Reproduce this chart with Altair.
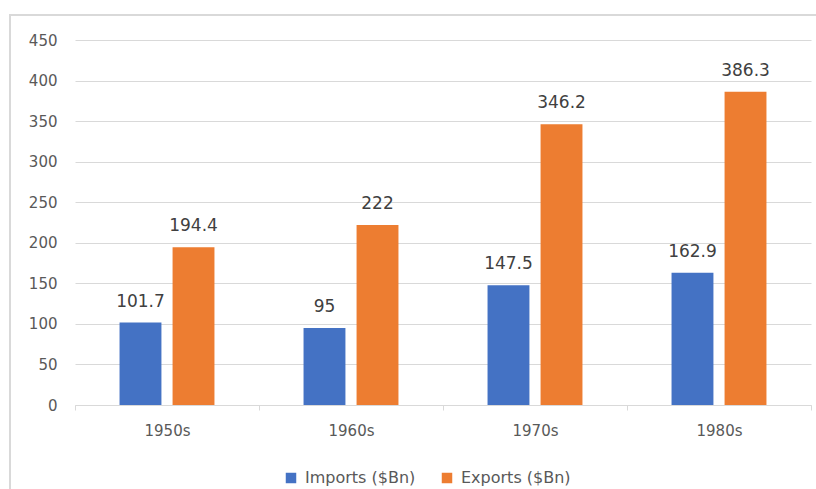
import altair as alt
import pandas as pd

decades = ["1950s", "1960s", "1970s", "1980s"]
imports = [101.7, 95, 147.5, 162.9]
exports = [194.4, 222, 346.2, 386.3]
series = ["Imports ($Bn)", "Exports ($Bn)"]

rows = []
for d, i, e in zip(decades, imports, exports):
    rows.append({"decade": d, "series": series[0], "value": i, "label": f"{i:g}"})
    rows.append({"decade": d, "series": series[1], "value": e, "label": f"{e:g}"})
df = pd.DataFrame(rows)

FONT = "DejaVu Sans"
x = alt.X("decade:N", sort=decades, title=None,
          scale=alt.Scale(paddingInner=0, paddingOuter=0),
          axis=alt.Axis(labelAngle=0, labelFontSize=15, labelColor="#595959", labelFont=FONT,
                        labelPadding=13, domainColor="#d9d9d9", tickColor="#d9d9d9",
                        tickSize=5, tickBand="extent", grid=False))
xo = alt.XOffset("series:N", sort=series,
                 scale=alt.Scale(paddingInner=0.21, paddingOuter=0.84))
y = alt.Y("value:Q", title=None,
          scale=alt.Scale(domain=[0, 450]),
          axis=alt.Axis(values=list(range(0, 451, 50)), labelFontSize=15, labelColor="#595959",
                        labelFont=FONT, labelPadding=18, domain=False, ticks=False,
                        gridColor="#d9d9d9", gridWidth=1))

frame = alt.Chart(alt.Data(values=[{}])).mark_rect(
    fill="transparent", stroke="#d9d9d9", strokeWidth=2
).encode(
    x=alt.value(-65), x2=alt.value(800), y=alt.value(-25), y2=alt.value(500)
)

base = alt.Chart(df)
bars = base.mark_bar().encode(
    x=x, xOffset=xo, y=y,
    color=alt.Color("series:N", sort=series,
                    scale=alt.Scale(domain=series, range=["#4472C4", "#ED7D31"]),
                    legend=alt.Legend(title=None, orient="none", direction="horizontal",
                                      legendX=208, legendY=430, symbolType="square",
                                      symbolSize=110, symbolStrokeWidth=0,
                                      labelFontSize=16, labelColor="#595959", labelFont=FONT,
                                      columnPadding=23, labelOffset=6)),
)
labels = base.mark_text(baseline="bottom", dy=-12, fontSize=17, color="#404040", font=FONT).encode(
    x=x, xOffset=xo, y=y, text="label:N"
)

chart = alt.layer(frame, bars, labels).properties(
    width=736, height=365,
    padding={"left": 75, "top": 40, "right": 5, "bottom": 84},
    autosize=alt.AutoSizeParams(type="none"),
    view=alt.ViewBackground(stroke="transparent", strokeWidth=0),
).configure_view(strokeWidth=0, stroke="transparent").configure(background="white")

chart.save("out.html", embed_options={"renderer": "svg", "actions": False})
